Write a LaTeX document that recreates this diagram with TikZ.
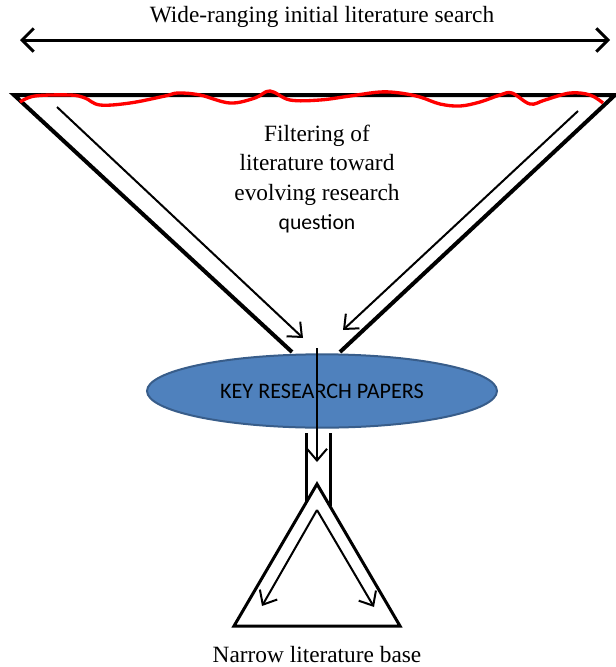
\documentclass[tikz,border=0pt]{standalone}
\usepackage{fontspec}
\setmainfont{Liberation Serif}
\newfontfamily\calibri{Carlito}
\usetikzlibrary{arrows.meta,shapes.geometric}
\definecolor{keyfill}{RGB}{79,129,189}
\definecolor{keyedge}{RGB}{56,93,138}

\begin{document}
\begin{tikzpicture}[x=0.6pt,y=-0.6pt,
    funnel/.style={line width=2.4pt},
    guide/.style={line width=1.2pt},
    barb/.style={-{Straight Barb[length=7pt,width=12pt]}},
    label/.style={font=\fontsize{14pt}{17.5pt}\selectfont}]
    \useasboundingbox (0,0) rectangle (615,667);

    % top: the wide search
    \node [label] (search) at (322,17) {Wide-ranging initial literature search};
    \coordinate (wl) at (20,40);
    \coordinate (wr) at (610,40);
    \draw [line width=1.8pt, {Straight Barb[length=7pt,width=14pt]}-{Straight Barb[length=7pt,width=14pt]}] (wl) -- (wr);

    % the funnel
    \coordinate (tl) at (14,95);
    \coordinate (tr) at (615,95);
    \coordinate (nl) at (292,352);
    \coordinate (nr) at (340,352);
    \draw [funnel, line join=miter] (nl) -- (tl) -- (tr) -- (nr);
    \draw [red, line width=2pt] plot [smooth, tension=0.6] coordinates {(20,102) (35,96) (70,95) (85,98) (100,105) (130,103) (165,96) (178,93) (200,95) (230,103) (255,98) (270,91) (290,100) (320,100) (350,96) (380,92) (400,93) (420,97) (440,104) (460,106) (480,102) (500,95) (512,93) (530,104) (545,100) (570,93) (590,95) (603,103)};

    \coordinate (il) at (57,107);
    \coordinate (ir) at (578,111);
    \coordinate (jl) at (303,338);
    \coordinate (jr) at (343,330);
    \draw [guide, barb] (il) -- (jl);
    \draw [guide, barb] (ir) -- (jr);

    \node [label, align=center] (filter) at (317,179) {Filtering of\\literature toward\\evolving research\\{\calibri\fontsize{13pt}{17.5pt}\selectfont question}};

    % key papers
    \node [ellipse, fill=keyfill, draw=keyedge, line width=1.2pt, minimum width=210pt, minimum height=44pt, font=\calibri\fontsize{13.3pt}{15pt}\selectfont] (key) at (322,391) {KEY RESEARCH PAPERS};

    \coordinate (sl) at (306,433);
    \coordinate (sr) at (330,433);
    \coordinate (el) at (306,503);
    \coordinate (er) at (330,506);
    \draw [line width=1.8pt] (sl) -- (el);
    \draw [line width=1.8pt] (sr) -- (er);

    \coordinate (down) at (317,348);
    \coordinate (stemend) at (317,462);
    \draw [guide, barb] (down) -- (stemend);

    % narrow base
    \coordinate (apex) at (317,484);
    \coordinate (bl) at (234,626);
    \coordinate (br) at (400,626);
    \draw [line width=1.8pt, line join=miter] (apex) -- (bl) -- (br) -- cycle;

    \coordinate (ia) at (317,510);
    \coordinate (al) at (262,606);
    \coordinate (ar) at (374,607);
    \draw [guide, barb] (ia) -- (al);
    \draw [guide, barb] (ia) -- (ar);

    \node [label] (base) at (317,655) {Narrow literature base};
\end{tikzpicture}
\end{document}
